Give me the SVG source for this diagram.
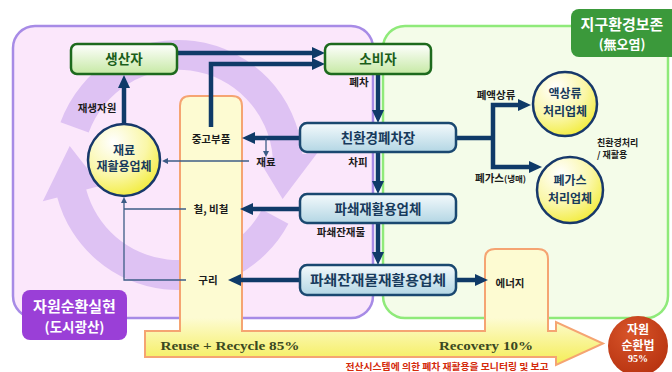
<svg xmlns="http://www.w3.org/2000/svg" width="672" height="372" viewBox="0 0 672 372">
<defs>
<linearGradient id="gGreen" x1="0" y1="0" x2="0" y2="1"><stop offset="0" stop-color="#ffffff"/><stop offset="1" stop-color="#c6e9a4"/></linearGradient>
<linearGradient id="gBlue" x1="0" y1="0" x2="0" y2="1"><stop offset="0" stop-color="#f4fafc"/><stop offset="1" stop-color="#b3d6e4"/></linearGradient>
<radialGradient id="gYel" cx="0.35" cy="0.25" r="0.85"><stop offset="0" stop-color="#ffffff"/><stop offset="0.55" stop-color="#faf7a8"/><stop offset="1" stop-color="#f1ea2a"/></radialGradient>
<linearGradient id="gPillar" gradientUnits="userSpaceOnUse" x1="0" y1="318" x2="0" y2="366"><stop offset="0" stop-color="#fdfbd2"/><stop offset="1" stop-color="#f4ed52"/></linearGradient>
<radialGradient id="gRed" cx="0.4" cy="0.3" r="0.8"><stop offset="0" stop-color="#d8552a"/><stop offset="1" stop-color="#b5300e"/></radialGradient>
<marker id="ah" markerUnits="userSpaceOnUse" markerWidth="14" markerHeight="14" refX="3" refY="7" orient="auto"><path d="M0,1 L13,7 L0,13 z" fill="#0f3a68"/></marker>
<marker id="ahs" markerUnits="userSpaceOnUse" markerWidth="8" markerHeight="8" refX="1" refY="3" orient="auto"><path d="M0,0 L6,3 L0,6 z" fill="#3c5c86"/></marker>
</defs>
<style>
.kr{font-family:"Noto Sans CJK KR","Noto Sans",sans-serif;font-weight:bold}
.lbl{font-size:10.5px;fill:#1a1a1a;text-anchor:middle}
.gbox{fill:url(#gGreen);stroke:#1d6a1d;stroke-width:2.5}
.gtxt{font-size:13.5px;fill:#1a5e1a;text-anchor:middle}
.bbox{fill:url(#gBlue);stroke:#1a4870;stroke-width:2.5}
.btxt{font-size:13.5px;fill:#173a5c;text-anchor:middle}
.circ{fill:url(#gYel);stroke:#17386a;stroke-width:2.5}
.ctxt{font-size:12px;fill:#173a5c;text-anchor:middle}
.arr{fill:none;stroke:#0f3a68;stroke-width:4.5;marker-end:url(#ah)}
.arrn{fill:none;stroke:#0f3a68;stroke-width:4.5}
.thin{fill:none;stroke:#3c5c86;stroke-width:1.3}
.thina{fill:none;stroke:#3c5c86;stroke-width:1.3;marker-end:url(#ahs)}
.cyc{fill:#dec2f3}
.wt{fill:#ffffff;text-anchor:middle}
</style>

<!-- regions -->
<g id="region-purple">
<rect x="13" y="26" width="360" height="292" rx="22" fill="#fbe7fb" stroke="#a78be6" stroke-width="2.5"/>
</g>
<g id="region-green">
<rect x="383" y="26" width="285" height="292" rx="22" fill="#f4fce9" stroke="#8fea7a" stroke-width="2.5"/>
</g>

<!-- cycle arrows -->
<g id="cycle">
<path class="cyc" d="M178,165 m-117.5,-42.8 A125,125 0 0 1 302.5,154.1 L317.5,152.8 L282.6,199 L257.7,158 L272.7,156.7 A95,95 0 0 0 88.7,132.5 Z"/>
<path class="cyc" d="M288.4,223.7 A125,125 0 0 1 57.3,197.4 L42.8,201.2 L69.7,145.9 L100.7,185.7 L86.2,189.6 A95,95 0 0 0 261.9,209.6 Z"/>
</g>

<!-- flow band -->
<g id="flow-band">
<path d="M145,331 H180 V106 Q180,96 190,96 H232 Q242,96 242,106 V331 H485 V259 Q485,249 495,249 H538 Q548,249 548,259 V331 H556 V322 L603,343.5 L556,365 V357 H145 Z" fill="url(#gPillar)" stroke="#f5a472" stroke-width="2"/>
<text x="230" y="349.5" font-family="Liberation Serif,serif" font-weight="bold" font-size="13.5" fill="#3a4822" text-anchor="middle" textLength="139" lengthAdjust="spacingAndGlyphs">Reuse + Recycle  85%</text>
<text x="486" y="349.5" font-family="Liberation Serif,serif" font-weight="bold" font-size="13.5" fill="#3a4822" text-anchor="middle" textLength="94" lengthAdjust="spacingAndGlyphs">Recovery  10%</text>
<text class="kr" x="447" y="369.5" font-size="9.5" fill="#d42a0a" text-anchor="middle" textLength="203" lengthAdjust="spacingAndGlyphs">전산시스템에 의한 폐차 재활용을 모니터링 및 보고</text>
</g>

<!-- connectors -->
<g id="connectors">
<path class="arr" d="M177,53 H315"/>
<path class="arr" d="M211,127 V64 H315"/>
<path class="arr" d="M124,124 V85"/>
<path class="arr" d="M378,74 V113"/>
<path class="arr" d="M378,152 V184"/>
<path class="arr" d="M378,223 V255"/>
<path class="arr" d="M300,138 H252"/>
<path class="arr" d="M300,209 H250"/>
<path class="arr" d="M300,280 H238"/>
<path class="arr" d="M456,280 H478"/>
<path class="arrn" d="M456,138 H493"/>
<path class="arr" d="M493,138 V105 H521"/>
<path class="arr" d="M493,138 V167 H532"/>
<path class="thina" d="M266,138 V152"/>
<path class="thina" d="M249,161 H167"/>
<path class="thin" d="M186,209 H124"/>
<path class="thina" d="M186,280 H124 V202"/>
</g>

<!-- nodes -->
<g id="producer">
<rect class="gbox" x="71" y="44" width="106" height="30" rx="6"/>
<text class="kr gtxt" x="124" y="64">생산자</text>
</g>
<g id="consumer">
<rect class="gbox" x="325" y="44" width="106" height="30" rx="6"/>
<text class="kr gtxt" x="378" y="64">소비자</text>
</g>
<g id="scrapyard">
<rect class="bbox" x="300" y="123" width="156" height="29" rx="7"/>
<text class="kr btxt" x="378" y="142.5">친환경폐차장</text>
</g>
<g id="shredder">
<rect class="bbox" x="300" y="194" width="156" height="29" rx="7"/>
<text class="kr btxt" x="378" y="213.5">파쇄재활용업체</text>
</g>
<g id="residue">
<rect class="bbox" x="300" y="265" width="156" height="30" rx="7"/>
<text class="kr btxt" x="378" y="285" textLength="136" lengthAdjust="spacingAndGlyphs">파쇄잔재물재활용업체</text>
</g>
<g id="material-recycler">
<circle class="circ" cx="124" cy="160" r="36"/>
<text class="kr ctxt" x="124" y="155" font-size="11">재료</text>
<text class="kr ctxt" x="124" y="171" font-size="11">재활용업체</text>
</g>
<g id="liquid">
<circle class="circ" cx="565" cy="104" r="32"/>
<text class="kr ctxt" x="565" y="98" font-size="12.5">액상류</text>
<text class="kr ctxt" x="565" y="116" font-size="12.5">처리업체</text>
</g>
<g id="gas">
<circle class="circ" cx="570" cy="190" r="33"/>
<text class="kr ctxt" x="570" y="185" font-size="12.5">폐가스</text>
<text class="kr ctxt" x="570" y="203" font-size="12.5">처리업체</text>
</g>
<g id="law">
<circle cx="638" cy="346" r="30" fill="url(#gRed)"/>
<text class="kr wt" x="638" y="333.5" font-size="12">자원</text>
<text class="kr wt" x="638" y="349.5" font-size="12">순환법</text>
<text class="wt" x="638" y="362" font-family="Liberation Serif,serif" font-weight="bold" font-size="10">95%</text>
</g>
<g id="tag-earth">
<rect x="571" y="9" width="110" height="48" rx="8" fill="#3b993b"/>
<text class="kr wt" x="622" y="29.5" font-size="15">지구환경보존</text>
<text class="kr wt" x="622" y="49" font-size="13">(無오염)</text>
</g>
<g id="tag-urban">
<rect x="22" y="290" width="105" height="50" rx="8" fill="#9a3fd7"/>
<text class="kr wt" x="74.5" y="312" font-size="15">자원순환실현</text>
<text class="kr wt" x="74.5" y="332" font-size="13.5">(도시광산)</text>
</g>

<!-- labels -->
<g id="labels">
<text class="kr lbl" x="97" y="112">재생자원</text>
<text class="kr lbl" x="211" y="143">중고부품</text>
<text class="kr lbl" x="266" y="166" font-size="10">재료</text>
<text class="kr lbl" x="211" y="213">철, 비철</text>
<text class="kr lbl" x="208" y="284">구리</text>
<text class="kr lbl" x="359" y="86">폐차</text>
<text class="kr lbl" x="358" y="165.5">차피</text>
<text class="kr lbl" x="341" y="236">파쇄잔재물</text>
<text class="kr lbl" x="510" y="287" font-size="10.5">에너지</text>
<text class="kr lbl" x="496" y="99">폐액상류</text>
<text class="kr" x="475" y="182" font-size="10.5" fill="#1a1a1a">폐가스<tspan font-size="8.5">(냉매)</tspan></text>
<text class="kr" x="597" y="146" font-size="9" fill="#1a1a1a">친환경처리</text>
<text class="kr" x="597" y="158" font-size="9" fill="#1a1a1a">/ 재활용</text>
</g>
</svg>
